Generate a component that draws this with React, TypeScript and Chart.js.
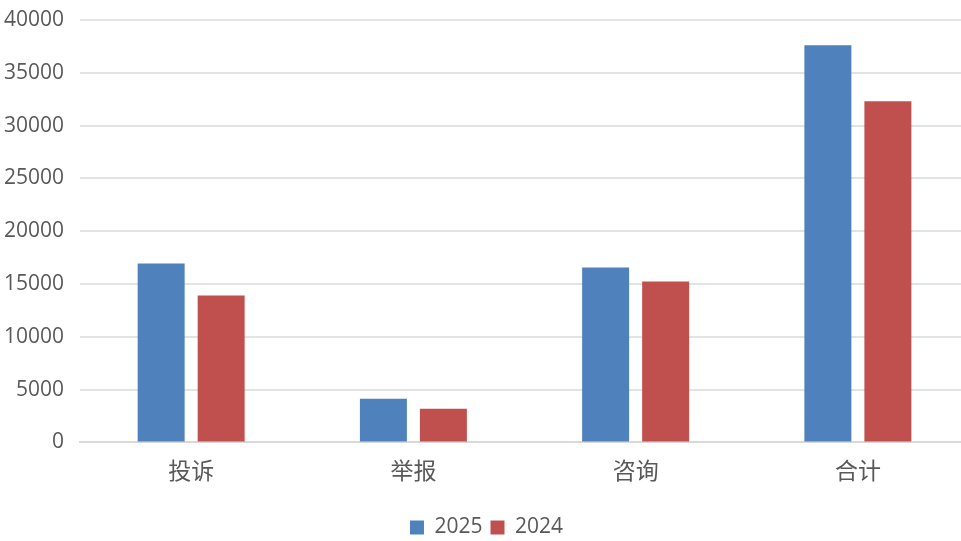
import React, { useEffect, useRef } from "react";
import { Chart, registerables } from "chart.js";

Chart.register(...registerables);

const categories = ["投诉", "举报", "咨询", "合计"];
const values2025 = [16940, 4130, 16560, 37620];
const values2024 = [13900, 3180, 15230, 32300];
const seriesNames = ["2025", "2024"];

const FONT = "'Open Sans', 'Noto Sans', sans-serif";
const CJK = "'Noto Sans CJK SC', sans-serif";

export default function App() {
  const ref = useRef<HTMLCanvasElement | null>(null);
  useEffect(() => {
    if (!ref.current) return;
    const chart = new Chart(ref.current, {
      type: "bar",
      data: {
        labels: categories,
        datasets: [
          {
            label: seriesNames[0],
            data: values2025,
            backgroundColor: "#4f81bd",
            categoryPercentage: 0.54,
            barPercentage: 0.783,
          },
          {
            label: seriesNames[1],
            data: values2024,
            backgroundColor: "#c0504d",
            categoryPercentage: 0.54,
            barPercentage: 0.783,
          },
        ],
      },
      options: {
        responsive: false,
        animation: false,
        devicePixelRatio: 1,
        layout: { padding: { left: 4, right: 11, top: 0, bottom: -7 } },
        plugins: {
          tooltip: { enabled: false },
          legend: {
            position: "bottom",
            labels: {
              boxWidth: 14,
              boxHeight: 14,
              padding: 8,
              color: "#595959",
              font: { family: FONT, size: 21 },
            },
          },
        },
        scales: {
          x: {
            grid: { display: false, drawTicks: false },
            border: { display: true, color: "#d9d9d9", width: 2 },
            ticks: {
              color: "#595959",
              font: { family: CJK, size: 23 },
              padding: 14,
            },
            afterFit: (s: any) => {
              s.height += 11;
            },
          },
          y: {
            min: 0,
            max: 40000,
            ticks: {
              stepSize: 5000,
              color: "#595959",
              font: { family: FONT, size: 21 },
              padding: 16,
              callback: (v: any) => String(v),
            },
            grid: { color: "#e3e3e3", lineWidth: 2, drawTicks: false },
            border: { display: false },
            afterFit: (s: any) => {
              s.width -= 16;
              s.paddingTop = 20;
            },
          },
        },
      },
    });
    return () => chart.destroy();
  }, []);
  return (
    <div
      style={{
        position: "fixed",
        left: 0,
        top: 0,
        width: 961,
        height: 541,
        overflow: "hidden",
        background: "#fff",
      }}
    >
      <canvas ref={ref} width={980} height={541} style={{ width: 980, height: 541 }} />
    </div>
  );
}
